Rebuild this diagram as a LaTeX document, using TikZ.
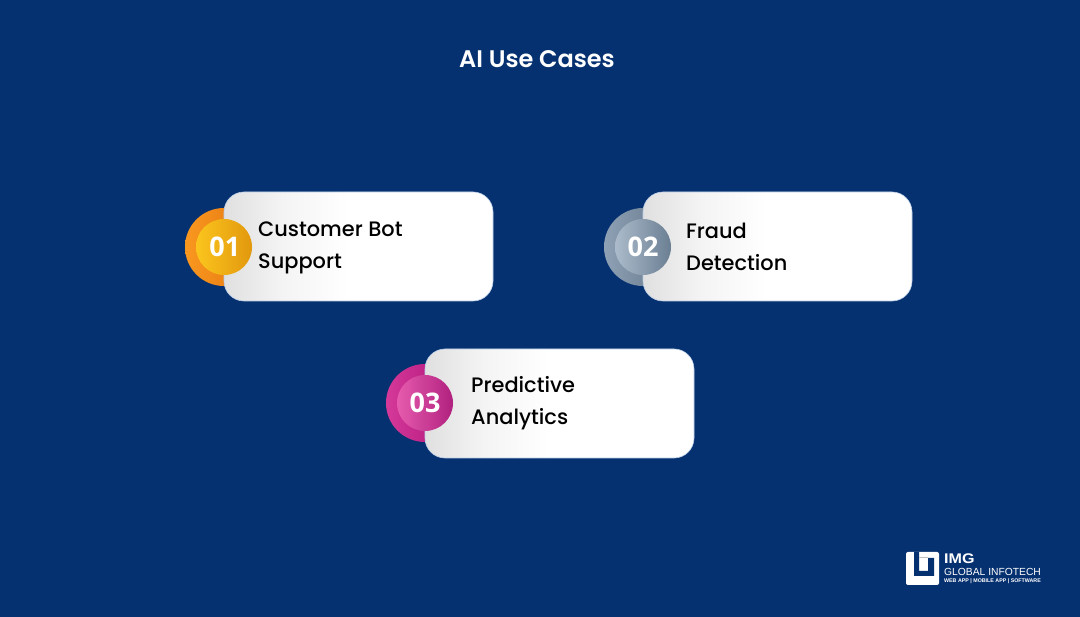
\documentclass[tikz,border=0pt]{standalone}
\usepackage{fontspec}
\setmainfont{Poppins}
\newfontfamily\medfont{Poppins Medium}
\newfontfamily\semifont{Poppins SemiBold}
\newfontfamily\numfont{Open Sans}
\newfontfamily\logofont{Liberation Sans}
\definecolor{bgblue}{HTML}{063170}
\definecolor{cardedge}{HTML}{B9CDE6}
\definecolor{greyL}{HTML}{E0E0E0}
\definecolor{greyM}{HTML}{F4F4F4}
\definecolor{ringAl}{HTML}{F9981F}\definecolor{ringAr}{HTML}{E2700F}
\definecolor{discAl}{HTML}{FBC51D}\definecolor{discAr}{HTML}{E2980E}
\definecolor{ringBl}{HTML}{8FA2B5}\definecolor{ringBr}{HTML}{5E7083}
\definecolor{discBl}{HTML}{ABBBCB}\definecolor{discBr}{HTML}{6B7F93}
\definecolor{ringCl}{HTML}{D5399A}\definecolor{ringCr}{HTML}{A80F72}
\definecolor{discCl}{HTML}{E75BAE}\definecolor{discCr}{HTML}{B0217F}
\pgfdeclarehorizontalshading{cardshade}{100bp}{
  color(0bp)=(greyL);
  color(25bp)=(greyL);
  color(36bp)=(greyM);
  color(48bp)=(white);
  color(100bp)=(white)}
\tikzset{
  card/.style={rectangle,rounded corners=20pt,minimum width=269pt,minimum height=109pt,
    shading=cardshade,draw=cardedge,line width=0.6pt,inner sep=0pt},
  ringc/.style={circle,minimum size=78pt,inner sep=0pt},
  disc/.style={circle,minimum size=56pt,inner sep=0pt,text=white,font=\numfont\bfseries\fontsize{27}{27}\selectfont},
  cardtext/.style={anchor=west,align=left,text=black,inner sep=0pt,
    font=\medfont\fontsize{20.9}{32}\selectfont},
}
\begin{document}
\begin{tikzpicture}[x=1pt,y=-1pt]
\useasboundingbox (0,0) rectangle (1080,617);
\fill[bgblue] (0,0) rectangle (1080,617);
\node[text=white,font=\semifont\fontsize{24}{24}\selectfont] (title) at (537,59) {AI Use Cases};

% card 1
\node[ringc,left color=ringAl,right color=ringAr] (ring1) at (224,247) {};
\node[card] (card1) at (358.5,246.5) {};
\node[disc,left color=discAl,right color=discAr] (disc1) at (224,247) {\raisebox{0.8pt}{\hspace{1.5pt}01}};
\node[cardtext] (text1) at (258,247.5) {Customer Bot\\Support};

% card 2
\node[ringc,left color=ringBl,right color=ringBr] (ring2) at (643,247) {};
\node[card] (card2) at (777.5,246.5) {};
\node[disc,left color=discBl,right color=discBr] (disc2) at (643,247) {\raisebox{0.8pt}{02}};
\node[cardtext] (text2) at (686,247) {Fraud\\Detection};

% card 3
\node[ringc,left color=ringCl,right color=ringCr] (ring3) at (425,403) {};
\node[card] (card3) at (559.5,403.5) {};
\node[disc,left color=discCl,right color=discCr] (disc3) at (425,403) {\raisebox{0.8pt}{03}};
\node[cardtext] (text3) at (471,403.5) {Predictive\\Analytics};

% logo
\fill[white,rounded corners=2pt] (906,552) rectangle (939,585);
\fill[bgblue] (914,552) -- (919,552) -- (919,571) -- (928,571) -- (928,558) -- (934,558) -- (934,576) -- (914,576) -- cycle;
\fill[black!25] (919,557.5) rectangle (928,558.5);
\node[anchor=west,inner sep=0pt,text=white,font=\logofont\bfseries\fontsize{14}{14}\selectfont,xscale=1.15] (logo1) at (944,559) {IMG};
\node[anchor=west,inner sep=0pt,text=white,font=\logofont\fontsize{10.3}{11}\selectfont] (logo2) at (944,571.5) {GLOBAL INFOTECH};
\node[anchor=west,inner sep=0pt,text=white,font=\logofont\bfseries\fontsize{5.3}{6}\selectfont] (logo3) at (944,581) {WEB APP | MOBILE APP | SOFTWARE};
\end{tikzpicture}
\end{document}
